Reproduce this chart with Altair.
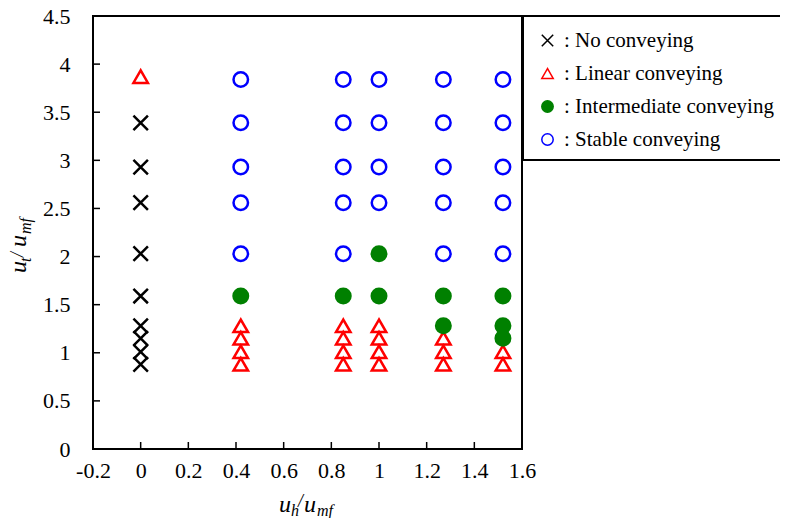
import altair as alt
import pandas as pd

# ---------------- data ----------------
categories = ["No conveying", "Linear conveying", "Intermediate conveying", "Stable conveying"]

no_x = [0, 0, 0, 0, 0, 0, 0, 0, 0]
no_y = [3.39, 2.93, 2.56, 2.03, 1.59, 1.28, 1.15, 1.01, 0.88]

lin_x = [0, 0.42, 0.42, 0.42, 0.42, 0.85, 0.85, 0.85, 0.85,
         1.0, 1.0, 1.0, 1.0, 1.27, 1.27, 1.27, 1.52, 1.52]
lin_y = [3.87, 1.28, 1.15, 1.01, 0.88, 1.28, 1.15, 1.01, 0.88,
         1.28, 1.15, 1.01, 0.88, 1.15, 1.01, 0.88, 1.01, 0.88]

int_x = [0.42, 0.85, 1.0, 1.0, 1.27, 1.27, 1.52, 1.52, 1.52]
int_y = [1.59, 1.59, 2.03, 1.59, 1.59, 1.28, 1.59, 1.28, 1.15]

st_x = [0.42, 0.42, 0.42, 0.42, 0.42,
        0.85, 0.85, 0.85, 0.85, 0.85,
        1.0, 1.0, 1.0, 1.0,
        1.27, 1.27, 1.27, 1.27, 1.27,
        1.52, 1.52, 1.52, 1.52, 1.52]
st_y = [3.84, 3.39, 2.93, 2.56, 2.03,
        3.84, 3.39, 2.93, 2.56, 2.03,
        3.84, 3.39, 2.93, 2.56,
        3.84, 3.39, 2.93, 2.56, 2.03,
        3.84, 3.39, 2.93, 2.56, 2.03]

x_ticks = [-0.2, 0, 0.2, 0.4, 0.6, 0.8, 1, 1.2, 1.4, 1.6]
y_ticks = [0, 0.5, 1, 1.5, 2, 2.5, 3, 3.5, 4, 4.5]

# ---------------- tables ----------------
rows = []
for cat, xs, ys in zip(categories, [no_x, lin_x, int_x, st_x], [no_y, lin_y, int_y, st_y]):
    for xv, yv in zip(xs, ys):
        rows.append({"x": xv, "y": yv, "cat": cat})
df = pd.DataFrame(rows)
df_xt = pd.DataFrame({"x": x_ticks})
df_yt = pd.DataFrame({"y": y_ticks})
one = pd.DataFrame({"k": [0]})

FONT = "Liberation Serif"
W, H = 429, 433

x_scale = alt.Scale(domain=[-0.2, 1.6], nice=False, zero=False)
y_scale = alt.Scale(domain=[0, 4.5], nice=False, zero=False)
x_axis = alt.Axis(values=x_ticks, labelExpr="'' + datum.value", title=None, grid=False,
                  domain=False, ticks=False, tickSize=0, labelPadding=11,
                  labelFlush=False, labelOverlap=False,
                  labelFont=FONT, labelFontSize=22, labelColor="black")
y_axis = alt.Axis(values=y_ticks, labelExpr="'' + datum.value", title=None, grid=False,
                  domain=False, ticks=False, tickSize=0, labelPadding=23,
                  labelFlush=False, labelOverlap=False,
                  labelFont=FONT, labelFontSize=22, labelColor="black")

X = alt.X("x:Q", scale=x_scale, axis=x_axis)
Y = alt.Y("y:Q", scale=y_scale, axis=y_axis)

legend = alt.Legend(title=None, orient="none", legendX=444, legendY=14,
                    labelExpr="': ' + datum.label", labelFont=FONT, labelFontSize=21,
                    labelColor="black", labelOffset=6, rowPadding=11,
                    symbolSize=130, symbolStrokeWidth=1.5, labelLimit=400)

x_path = "M-1,-1L1,1M-1,1L1,-1"

points = alt.Chart(df).mark_point(size=210, strokeWidth=2.5, opacity=1, fillOpacity=1).encode(
    x=X, y=Y,
    shape=alt.Shape("cat:N", scale=alt.Scale(domain=categories,
                    range=[x_path, "triangle-up", "circle", "circle"]), legend=legend),
    stroke=alt.Stroke("cat:N", scale=alt.Scale(domain=categories,
                      range=["black", "red", "green", "blue"]), legend=legend),
    fill=alt.Fill("cat:N", scale=alt.Scale(domain=categories,
                  range=["transparent", "transparent", "green", "transparent"]), legend=legend),
)

x_tick_rules = alt.Chart(df_xt).mark_rule(color="black", strokeWidth=1.5).encode(
    x=X, y=alt.value(H), y2=alt.value(H - 7))
y_tick_rules = alt.Chart(df_yt).mark_rule(color="black", strokeWidth=1.5).encode(
    y=Y, x=alt.value(0), x2=alt.value(7))

legend_box = alt.Chart(one).mark_rect(fill="white", stroke="black", strokeWidth=2).encode(
    x=alt.value(430), x2=alt.value(730), y=alt.value(0), y2=alt.value(144))


def piece(txt, px, py, size, angle=0):
    kw = dict(text=txt, font=FONT, fontStyle="italic", fontSize=size, align="left",
              baseline="alphabetic", color="black")
    if angle:
        kw["angle"] = angle
    return alt.Chart(one).mark_text(**kw).encode(x=alt.value(px), y=alt.value(py))


x_title = [
    piece("u", 186, 496, 24),
    piece("h", 198, 500, 16),
    piece("/", 205, 491, 18),
    piece("u", 211, 496, 24),
    piece("mf", 224, 500, 16),
]
y_title = [
    piece("u", -67, 257, 24, 270),
    piece("t", -62, 246, 16, 270),
    piece("/", -70, 241, 18, 270),
    piece("u", -67, 231, 24, 270),
    piece("mf", -62, 218, 16, 270),
]

chart = alt.layer(
    legend_box, x_tick_rules, y_tick_rules, points, *x_title, *y_title
).properties(
    width=W, height=H,
    autosize=alt.AutoSizeParams(type="none"),
    padding={"left": 85, "top": 8, "right": 258, "bottom": 69},
    background="white",
).configure_view(
    stroke="black", strokeWidth=2
)

chart.save("out.html", embed_options={"renderer": "svg", "actions": False})
